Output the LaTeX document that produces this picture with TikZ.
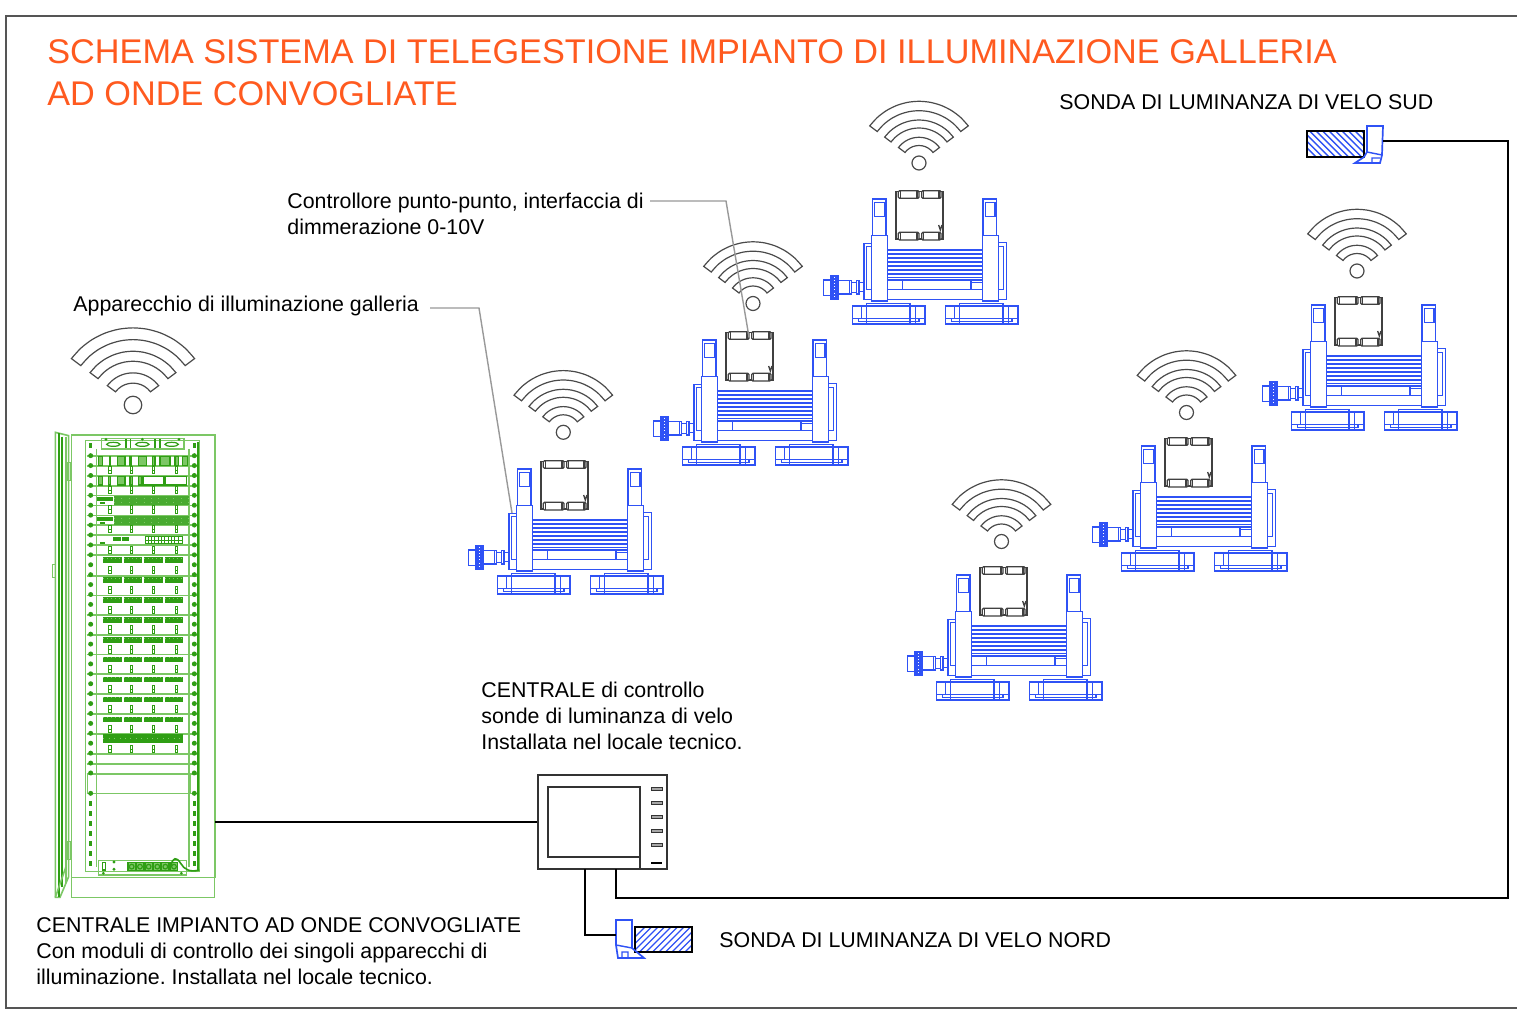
\documentclass[tikz,border=0pt]{standalone}
\usepackage{fontspec}
\setmainfont{Liberation Sans}
\frenchspacing
\definecolor{lampblue}{HTML}{2F52F5}
\definecolor{rkd}{HTML}{2F9E14}
\definecolor{rkl}{HTML}{7CC765}
\definecolor{orangetitle}{HTML}{FF5A1F}
\definecolor{framegrey}{HTML}{555555}
\definecolor{wifigrey}{HTML}{4A4A4A}
\newcommand{\wifisign}[3]{%
 \begin{scope}[shift={(#1,#2)},scale=#3]
  \draw[wifi] (0,0) circle[radius=7];
  \foreach \ro/\ri in {61.7/52.3,43/35,25.7/17.5}{
   \draw[wifi] plot[domain=-143:-37,samples=11,smooth] ({\ro*cos(\x)},{\ro*sin(\x)})
     -- plot[domain=-37:-143,samples=11,smooth] ({\ri*cos(\x)},{\ri*sin(\x)}) -- cycle;
  }
 \end{scope}}
\newcommand{\lampunit}[2]{%
 \begin{scope}[shift={(#1,#2)},scale=0.33333,shift={(-243,-300)}]
  % controller
  \draw[ctl] (243,305) rectangle (384,447);
  \foreach \xa/\xb in {250/312,320/378}{
   \draw[ctl,fill=white,rounded corners=0.6pt] (\xa,302) rectangle (\xb,325);
   \draw[ctl,fill=white,rounded corners=0.6pt] (\xa,427) rectangle (\xb,450);
   \draw[ctl] (\xa+6,302) -- (\xa+6,325) (\xb-6,302) -- (\xb-6,325);
   \draw[ctl] (\xa+6,427) -- (\xa+6,450) (\xb-6,427) -- (\xb-6,450);
  }
  \draw[ctl] (371,405) -- (376,420) -- (381,405);
  % posts
  \foreach \dx in {0,332}{
   \draw[lb] (172+\dx,327) rectangle (213+\dx,437);
   \draw[lb] (179+\dx,338) rectangle (208+\dx,380);
   \draw[lb] (170+\dx,437) rectangle (218+\dx,633);
  }
  % side plates
  \draw[lb] (147,460) rectangle (170,628);
  \draw[lb] (155,470) rectangle (170,598);
  \draw[lb] (550,458) rectangle (574,628);
  \draw[lb] (550,470) rectangle (566,598);
  % body
  \draw[lb] (218,480) rectangle (502,628);
  \foreach \y in {492,504,516,528,540,552,562,570}{\draw[lb] (218,\y) -- (502,\y);}
  \draw[lb] (218,598) -- (502,598);
  \draw[lb] (262,570) -- (262,598) (468,570) -- (468,598);
  \draw[lb] (468,577) -- (502,577);
  % connector
  \draw[lb] (26,570) rectangle (48,617);
  \draw[lb,fill=lampblue] (48,558) rectangle (70,628);
  \draw[white,line width=0.25pt,dash pattern=on 0.4pt off 1.2pt] (59,560) -- (59,626);
  \draw[lb] (70,572) rectangle (103,612);
  \draw[lb] (103,572) rectangle (110,612);
  \draw[lb] (110,578) rectangle (124,608);
  \draw[lb] (124,572) rectangle (132,612);
  \draw[lb] (132,578) rectangle (147,605);
  % feet
  \foreach \dx in {0,279}{
   \draw[lb] (112+\dx,648) rectangle (330+\dx,702);
   \draw[lb] (155+\dx,640) rectangle (285+\dx,702);
   \draw[lb] (112+\dx,685) -- (330+\dx,685);
   \draw[lb] (130+\dx,685) -- (130+\dx,695) -- (312+\dx,695) -- (312+\dx,685);
   \draw[lb] (140+\dx,648) -- (140+\dx,685) (302+\dx,648) -- (302+\dx,702);
  }
 \end{scope}}
\begin{document}
\begin{tikzpicture}[x=0.5pt,y=-0.5pt,
  lb/.style={draw=lampblue,line width=0.72pt},
  ctl/.style={draw=black!75,line width=0.65pt},
  wifi/.style={draw=wifigrey,line width=0.6pt},
  wire/.style={draw=black,line width=1pt},
  leader/.style={draw=black!40,line width=0.7pt},
  rkA/.style={draw=rkl,line width=0.8pt},
  rkB/.style={draw=rkd,line width=0.6pt},
  lbl/.style={inner sep=0pt,anchor=north west,align=left,font=\fontsize{10.68}{13}\selectfont},
  ttl/.style={inner sep=0pt,anchor=north west,align=left,text=orangetitle,font=\fontsize{17.12}{21}\selectfont},
  ghost/.style={draw=none,inner sep=0pt,fill=none},
  sensor/.style={draw=black,line width=1.2pt}]
\useasboundingbox (0,0) rectangle (1517,1026);
\fill[white] (0,0) rectangle (1517,1026);
% frame
\draw[framegrey,line width=0.6pt] (1517,16) -- (6,16) -- (6,1008) -- (1517,1008);
% title
\node[ttl] (title) at (47,39) {SCHEMA SISTEMA DI TELEGESTIONE IMPIANTO DI ILLUMINAZIONE GALLERIA\\AD ONDE CONVOGLIATE};
% rack
\wifisign{133}{405}{1.25}
\begin{scope}[shift={(40,420)},scale=0.33333]
 % door
 \draw[rkA] (46,37) -- (86,47) -- (86,1370) -- (60,1432) -- (46,1432) -- cycle;
 \draw[rkB] (57,40) -- (57,1430);
 \draw[rkB,line width=1.1pt] (66,50) -- (66,1400);
 \draw[rkA] (78,50) -- (78,1390);
 \draw[rkA] (46,1432) -- (78,1340);
 \draw[rkA] (38,433) rectangle (46,472);
 \draw[rkA] (82,128) rectangle (92,182);
 \draw[rkA] (82,1265) rectangle (92,1318);
 % cabinet
 \draw[rkA] (94,45) rectangle (525,1372);
 \draw[rkA] (94,1372) rectangle (523,1432);
 \draw[rkA] (136,62) rectangle (478,1355);
 \draw[rkA] (170,87) -- (170,1340) (447,87) -- (447,1340);
 \draw[rkB,line width=1.2pt] (474,65) -- (474,1352);
 \draw[rkA] (142,1060) -- (142,1120) -- (450,1120) -- (450,1060);
 % rows
 \foreach \y in {108,138,168,198,226,256,286,315,345,375,405,468,527,585,645,703,762,822,882,942,1002,1032,1062,1120}{
  \draw[rkA] (140,\y) -- (470,\y);}
 % mounting dots
 \foreach \k in {0,...,32}{
  \fill[rkd] (152,107+29.75*\k) circle[radius=7.5];
  \fill[rkd] (463,107+29.75*\k) circle[radius=7.5];
 }
 \fill[rkd] (152,1120) circle[radius=7.5];
 \fill[rkd] (463,1120) circle[radius=7.5];
 \foreach \k in {0,...,6}{
  \fill[rkd] (148,1143+30*\k) rectangle (156,1157+30*\k);
  \fill[rkd] (459,1143+30*\k) rectangle (467,1157+30*\k);
 }
 \fill[rkd] (148,70) rectangle (156,84);
 \fill[rkd] (459,70) rectangle (467,84);
 % top strip
 \draw[rkA] (185,55) rectangle (432,87);
 \foreach \x in {258,272,345,360}{\draw[rkB] (\x,58) -- (\x,85);}
 \foreach \x in {220,307,395}{\draw[rkB] (\x,73) ellipse[x radius=20,y radius=6];}
 \foreach \x in {198,307,417}{\fill[rkd] (\x,58) circle[radius=4.5];}
 % ladders
 \foreach \y in {138,198,256,315,378,438,497,557,616,676,735,795,855,915,975}{
  \foreach \x in {210,275,341,410}{
   \draw[rkB,line width=0.5pt] (\x-4,\y+2) rectangle (\x+4,\y+24);
   \draw[rkB,line width=0.5pt] (\x-4,\y+13) -- (\x+4,\y+13);
  }
 }
 % row 1 and 2 terminal blocks
 \foreach \a/\b in {175/187,208/212,232/255,270/275,296/320,337/345,360/390,405/415,428/442}{
  \draw[rkB,fill=rkl] (\a,110) rectangle (\b,136);}
 \foreach \a/\b in {175/187,205/212,232/255,270/278,296/306}{
  \draw[rkB,fill=rkl] (\a,170) rectangle (\b,195);}
 \draw[rkB] (310,170) rectangle (372,195) (376,170) rectangle (440,195);
 % rows 3 and 4
 \foreach \y in {228,288}{
  \fill[rkd] (172,\y+4) rectangle (218,\y+16);
  \fill[rkd] (180,\y+19) rectangle (195,\y+25);
  \fill[rkd!88!white] (222,\y) rectangle (447,\y+27);
  \draw[rkl,line width=0.3pt,dash pattern=on 0.5pt off 3.2pt] (222,\y+8) -- (447,\y+8);
  \draw[rkl,line width=0.3pt,dash pattern=on 0.5pt off 3.2pt] (222,\y+20) -- (447,\y+20);
 }
 % row 5
 \fill[rkd] (220,350) rectangle (243,362);
 \fill[rkd] (246,350) rectangle (266,362);
 \fill[rkd] (180,365) rectangle (195,373);
 \draw[rkB,line width=0.5pt] (316,350) rectangle (428,372);
 \draw[rkB,line width=0.5pt] (316,361) -- (428,361);
 \foreach \x in {325,335,...,420}{\draw[rkB,line width=0.5pt] (\x,350) -- (\x,372);}
 % module bars
 \foreach \y in {420,480,540,600,660,718,778,838,898}{
  \foreach \a/\b in {190/245,252/307,312/368,374/430}{
   \fill[rkd] (\a,\y-8) rectangle (\b,\y+8);
   \draw[rkl,line width=0.25pt,dash pattern=on 0.4pt off 1.6pt] (\a,\y-6) -- (\b,\y-6);
  }
 }
 \fill[rkd] (190,942) rectangle (428,970);
 \draw[rkl,line width=0.3pt,dash pattern=on 0.5pt off 2.2pt] (190,956) -- (428,956);
 % power strip
 \draw[rkA] (176,1321) rectangle (440,1365);
 \draw[rkB] (187,1328) rectangle (196,1350);
 \fill[rkd] (222,1326) circle[radius=5] (222,1348) circle[radius=5];
 \foreach \x in {275,300,326,352,376,402}{
  \draw[rkB,fill=rkl] (\x-11,1328) rectangle (\x+11,1352);
  \draw[rkB] (\x,1340) circle[radius=7];
 }
 \fill[rkd] (190,1360) circle[radius=4.5] (424,1360) circle[radius=4.5];
 \draw[rkB,line width=0.8pt] (392,1340) .. controls (398,1310) and (410,1310) .. (422,1330) .. controls (432,1348) and (450,1358) .. (478,1350);
\end{scope}
\node[ghost,minimum width=80pt,minimum height=233pt] (rack) at (135,665) {};
\coordinate (rackport) at (215,822);
% lamps
\wifisign{563.3}{432.3}{1}
\lampunit{541}{460}
\wifisign{753}{303.5}{1}
\lampunit{726}{331}
\wifisign{919}{163}{1}
\lampunit{896}{190}
\wifisign{1357}{271}{1}
\lampunit{1335}{296}
\wifisign{1186.5}{412.5}{1}
\lampunit{1165}{437}
\wifisign{1001.5}{541.5}{1}
\lampunit{980}{566}
% centrale
\node[draw=black!80,line width=0.7pt,fill=white,inner sep=0pt,minimum width=64.5pt,minimum height=47pt] (centrale) at (602.5,822) {};
\draw[black!80,line width=0.7pt] (548,787) rectangle (640,857);
\draw[black!80,line width=0.7pt] (640,857) -- (640,869);
\foreach \y in {789,803,817,831,845}{
 \draw[black!80,fill=black!35,line width=0.5pt] (651,\y-1.7) rectangle (662,\y+1.7);}
\draw[black,line width=1pt] (651,863) -- (662,863);
% sonda sud
\node[ghost,minimum width=28.5pt,minimum height=13pt] (sondasud) at (1335.5,144) {};
\begin{scope}
 \clip (1307,131) rectangle (1364,157);
 \foreach \k in {-2,...,14}{\draw[lampblue,line width=0.7pt] (1300+\k*6.5,128) -- (1332+\k*6.5,160);}
\end{scope}
\draw[sensor] (1307,131) rectangle (1364,157);
\draw[lb,line width=0.85pt] (1367,126) -- (1383,126) -- (1382,155) -- (1380,163) -- (1355,163) -- (1364,157) -- (1367,152) -- cycle;
\draw[lb] (1367,152) -- (1382,155) (1372,163) -- (1372,158) -- (1380,158);
\coordinate (sudport) at (1383,141);
% sonda nord
\node[ghost,minimum width=28.5pt,minimum height=12.5pt] (sondanord) at (663.5,939.5) {};
\begin{scope}
 \clip (635,927) rectangle (692,952);
 \foreach \k in {-2,...,14}{\draw[lampblue,line width=0.7pt] (630+\k*6.5,955) -- (662+\k*6.5,923);}
\end{scope}
\draw[sensor] (635,927) rectangle (692,952);
\draw[lb,line width=0.85pt] (616,920) -- (632,920) -- (632,948) -- (644,958) -- (618,958) -- (616,945) -- cycle;
\draw[lb] (616,945) -- (632,948) (622,958) -- (622,952) -- (628,952) -- (628,958);
\coordinate (nordport) at (616,935);
% wires
\coordinate (outN) at (585,869);
\coordinate (outS) at (616,869);
\draw[wire] (rackport) -- (rackport -| centrale.west);
\draw[wire] (outN) |- (nordport);
\draw[wire] (outS) -- (616,898) -- (1508,898) -- (1508,141) -- (sudport);
% labels
\node[lbl] (lblsud) at (1059,94) {SONDA DI LUMINANZA DI VELO SUD};
\node[lbl] (lblnord) at (719,932) {SONDA DI LUMINANZA DI VELO NORD};
\node[lbl] (lblctl) at (287,193) {Controllore punto-punto, interfaccia di\\dimmerazione 0-10V};
\node[lbl] (lblapp) at (73,296) {Apparecchio di illuminazione galleria};
\node[lbl] (lblcen) at (481,682) {CENTRALE di controllo\\sonde di luminanza di velo\\Installata nel locale tecnico.};
\node[lbl] (lblrack) at (36,917) {CENTRALE IMPIANTO AD ONDE CONVOGLIATE\\Con moduli di controllo dei singoli apparecchi di\\illuminazione. Installata nel locale tecnico.};
% leaders
\coordinate (ctlA) at (650,201);
\coordinate (ctlB) at (749,337);
\coordinate (appA) at (430,308);
\coordinate (appB) at (512,513);
\draw[leader] (ctlA) -- (726,201) -- (ctlB);
\draw[leader] (appA) -- (479,308) -- (appB);
\end{tikzpicture}
\end{document}
